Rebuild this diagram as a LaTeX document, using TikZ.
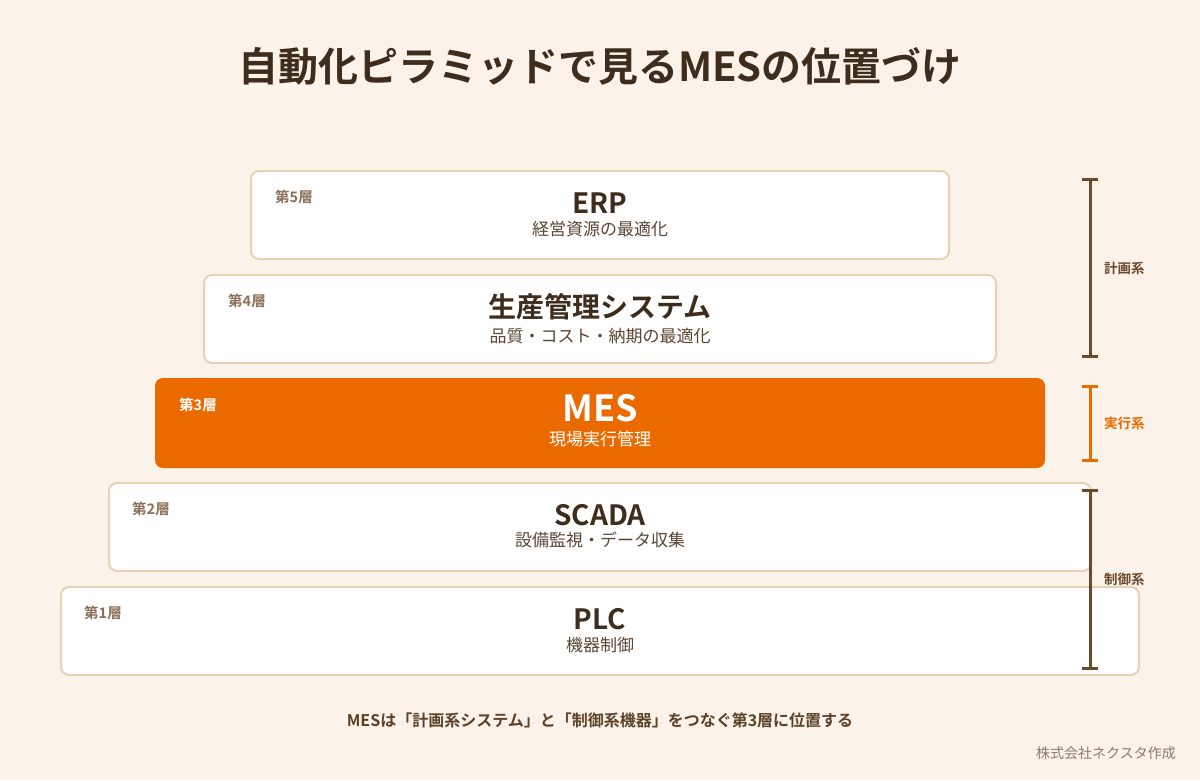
\documentclass[tikz,border=0pt]{standalone}
\usepackage{fontspec}
\setmainfont{Noto Sans CJK JP}[BoldFont={Noto Sans CJK JP Bold}]
\definecolor{bg}{HTML}{FBF3EA}
\definecolor{border}{HTML}{E6D3B3}
\definecolor{dark}{HTML}{3E2C1C}
\definecolor{sub}{HTML}{5A4632}
\definecolor{lay}{HTML}{8A7058}
\definecolor{brk}{HTML}{6B4A2B}
\definecolor{org}{HTML}{EB6A00}
\definecolor{note}{HTML}{5C4128}
\definecolor{cred}{HTML}{8C7B6B}
\tikzset{
  layerbox/.style={draw=border, line width=2pt, fill=white, rounded corners=8pt, minimum height=88pt, inner sep=0pt},
  mesbox/.style={fill=org, rounded corners=8pt, minimum height=90pt, inner sep=0pt},
  maintxt/.style={inner sep=0pt, font=\bfseries\fontsize{28}{30}\selectfont, text=dark},
  subtxt/.style={inner sep=0pt, font=\fontsize{17}{19}\selectfont, text=sub},
  laytxt/.style={inner sep=0pt, anchor=west, font=\bfseries\fontsize{14.5}{16}\selectfont, text=lay},
  bracket/.style={line width=3pt, draw=brk},
  grouptxt/.style={inner sep=0pt, anchor=west, font=\bfseries\fontsize{13.5}{15}\selectfont, text=brk},
}
\begin{document}
\begin{tikzpicture}[x=1pt,y=-1pt]
\fill[bg] (0,0) rectangle (1200,780);
\useasboundingbox (0,0) rectangle (1200,780);

\node[inner sep=0pt, font=\bfseries\fontsize{40}{44}\selectfont, text=dark] (title) at (600,66) {自動化ピラミッドで見るMESの位置づけ};

% Layer 5
\node[layerbox, minimum width=698pt] (b5) at (600,215) {};
\node[laytxt] (l5) at (275,197) {第5層};
\node[maintxt] (t5) at (600,203) {ERP};
\node[subtxt] (s5) at (600,229) {経営資源の最適化};

% Layer 4
\node[layerbox, minimum width=792pt] (b4) at (600,319) {};
\node[laytxt] (l4) at (228,301) {第4層};
\node[maintxt] (t4) at (600,307) {生産管理システム};
\node[subtxt] (s4) at (600,336) {品質・コスト・納期の最適化};

% Layer 3
\node[mesbox, minimum width=890pt] (b3) at (600,423) {};
\node[laytxt, text=white] (l3) at (179,405) {第3層};
\node[maintxt, text=white, font=\bfseries\fontsize{36}{40}\selectfont] (t3) at (600,408) {MES};
\node[subtxt, text=white] (s3) at (600,439) {現場実行管理};

% Layer 2
\node[layerbox, minimum width=982pt] (b2) at (600,527) {};
\node[laytxt] (l2) at (132,509) {第2層};
\node[maintxt] (t2) at (600,515) {SCADA};
\node[subtxt] (s2) at (600,540) {設備監視・データ収集};

% Layer 1
\node[layerbox, minimum width=1078pt] (b1) at (600,631) {};
\node[laytxt] (l1) at (84,613) {第1層};
\node[maintxt] (t1) at (600,619) {PLC};
\node[subtxt] (s1) at (600,645) {機器制御};

% Brackets
\coordinate (p1) at (1090,179);
\coordinate (p2) at (1090,356);
\draw[bracket] (p1) -- (p2);
\draw[bracket] ([xshift=-8pt]p1) -- ([xshift=8pt]p1);
\draw[bracket] ([xshift=-8pt]p2) -- ([xshift=8pt]p2);
\node[grouptxt] (g1) at (1104,268) {計画系};

\coordinate (e1) at (1090,386);
\coordinate (e2) at (1090,460);
\draw[bracket, draw=org] (e1) -- (e2);
\draw[bracket, draw=org] ([xshift=-8pt]e1) -- ([xshift=8pt]e1);
\draw[bracket, draw=org] ([xshift=-8pt]e2) -- ([xshift=8pt]e2);
\node[grouptxt, text=org] (g2) at (1104,423) {実行系};

\coordinate (c1) at (1090,490);
\coordinate (c2) at (1090,668);
\draw[bracket] (c1) -- (c2);
\draw[bracket] ([xshift=-8pt]c1) -- ([xshift=8pt]c1);
\draw[bracket] ([xshift=-8pt]c2) -- ([xshift=8pt]c2);
\node[grouptxt] (g3) at (1104,579) {制御系};

% Notes
\node[inner sep=0pt, font=\bfseries\fontsize{16}{18}\selectfont, text=note] (note) at (600,720) {MESは「計画系システム」と「制御系機器」をつなぐ第3層に位置する};
\node[inner sep=0pt, anchor=east, font=\fontsize{14}{16}\selectfont, text=cred] (credit) at (1176,753) {株式会社ネクスタ作成};
\end{tikzpicture}
\end{document}
